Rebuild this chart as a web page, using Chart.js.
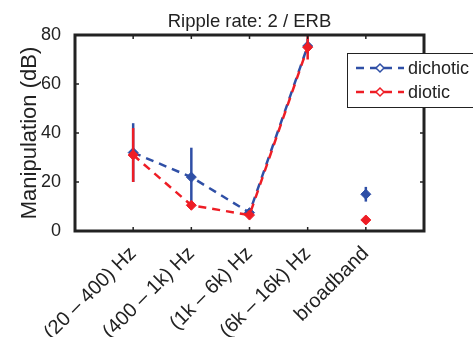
<!DOCTYPE html>
<html>
<head>
<meta charset="utf-8">
<script src="https://cdn.jsdelivr.net/npm/chart.js@4/dist/chart.umd.min.js"></script>
<style>
  html, body { margin: 0; padding: 0; background: #fff; }
  #wrap { width: 473px; height: 337px; }
</style>
</head>
<body>
<div id="wrap"><canvas id="chart" width="473" height="337"></canvas></div>
<script>
const categories = ['(20 \u2013 400) Hz', '(400 \u2013 1k) Hz', '(1k \u2013 6k) Hz', '(6k \u2013 16k) Hz', 'broadband'];
const dichotic = [32, 22, 7.5, 75.5, 15];
const dichoticErr = [12, 12, 1.5, 3, 3];
const diotic = [31, 10.5, 6.5, 75, 4.5];
const dioticErr = [11, 1.5, 1.5, 5, 1];
const yTicks = [0, 20, 40, 60, 80];

const BLUE = '#2f4fa6';
const RED = '#ee1d25';
const FONT = '"Liberation Sans", Arial, sans-serif';

function pts(arr) { return arr.map((v, i) => ({ x: i + 1, y: v })); }

// no line into the broadband point
const noLast = { borderColor: c => c.p1DataIndex === categories.length - 1 ? 'rgba(0,0,0,0)' : undefined };

const frame = {
  id: 'frame',
  beforeDatasetDraw(chart, args) {
    const ds = chart.data.datasets[args.index];
    if (!ds.err) return;
    const { ctx, chartArea: a } = chart;
    const x = chart.scales.x, y = chart.scales.y;
    ctx.save();
    ctx.beginPath();
    ctx.rect(a.left, a.top, a.right - a.left, a.bottom - a.top);
    ctx.clip();
    ctx.strokeStyle = ds.borderColor;
    ctx.lineWidth = 2.5;
    ds.data.forEach((p, i) => {
      ctx.beginPath();
      ctx.moveTo(x.getPixelForValue(p.x), y.getPixelForValue(p.y - ds.err[i]));
      ctx.lineTo(x.getPixelForValue(p.x), y.getPixelForValue(p.y + ds.err[i]));
      ctx.stroke();
    });
    ctx.restore();
  },
  afterDraw(chart) {
    const { ctx, chartArea: a } = chart;
    const x = chart.scales.x, y = chart.scales.y;
    ctx.save();
    ctx.strokeStyle = '#222';
    ctx.lineWidth = 3;
    ctx.strokeRect(a.left, a.top, a.right - a.left, a.bottom - a.top);
    ctx.lineWidth = 1.5;
    categories.forEach((c, i) => {
      const px = x.getPixelForValue(i + 1);
      ctx.beginPath();
      ctx.moveTo(px, a.bottom); ctx.lineTo(px, a.bottom - 4);
      ctx.moveTo(px, a.top); ctx.lineTo(px, a.top + 4);
      ctx.stroke();
    });
    yTicks.forEach(v => {
      const py = y.getPixelForValue(v);
      ctx.beginPath();
      ctx.moveTo(a.left, py); ctx.lineTo(a.left + 4, py);
      ctx.moveTo(a.right, py); ctx.lineTo(a.right - 4, py);
      ctx.stroke();
    });
    // title
    ctx.fillStyle = '#222';
    ctx.font = '18.5px ' + FONT;
    ctx.textAlign = 'center';
    ctx.textBaseline = 'alphabetic';
    ctx.fillText('Ripple rate: 2 / ERB', (a.left + a.right) / 2, 26.5);
    // legend
    const lx = 347, ly = 53, lw = 130, lh = 54;
    ctx.fillStyle = '#fff';
    ctx.fillRect(lx, ly, lw, lh);
    ctx.strokeStyle = '#222';
    ctx.lineWidth = 1;
    ctx.strokeRect(lx + 0.5, ly + 0.5, lw, lh);
    [['dichotic', BLUE, 68], ['diotic', RED, 92]].forEach(([name, col, ry]) => {
      ctx.strokeStyle = col;
      ctx.lineWidth = 2.5;
      ctx.setLineDash([8, 6]);
      ctx.beginPath();
      ctx.moveTo(356, ry); ctx.lineTo(404, ry);
      ctx.stroke();
      ctx.setLineDash([]);
      ctx.fillStyle = '#fff';
      ctx.beginPath();
      ctx.moveTo(380, ry - 4); ctx.lineTo(384, ry); ctx.lineTo(380, ry + 4); ctx.lineTo(376, ry);
      ctx.closePath();
      ctx.fill();
      ctx.lineWidth = 1.5;
      ctx.stroke();
      ctx.fillStyle = '#222';
      ctx.font = '18px ' + FONT;
      ctx.textAlign = 'left';
      ctx.textBaseline = 'middle';
      ctx.fillText(name, 408, ry + 1);
    });
    ctx.restore();
  }
};

new Chart(document.getElementById('chart'), {
  type: 'line',
  data: {
    datasets: [
      {
        label: 'dichotic',
        data: pts(dichotic),
        err: dichoticErr,
        borderColor: BLUE,
        backgroundColor: BLUE,
        borderWidth: 2.5,
        borderDash: [8, 6],
        pointStyle: 'rectRot',
        pointRadius: 5,
        pointBorderWidth: 1,
        segment: noLast,
        order: 2
      },
      {
        label: 'diotic',
        data: pts(diotic),
        err: dioticErr,
        borderColor: RED,
        backgroundColor: RED,
        borderWidth: 2.5,
        borderDash: [8, 6],
        pointStyle: 'rectRot',
        pointRadius: 5,
        pointBorderWidth: 1,
        segment: noLast,
        order: 1
      }
    ]
  },
  options: {
    responsive: false,
    animation: false,
    layout: { padding: { top: 35, right: 49, left: 0, bottom: 0 } },
    plugins: { legend: { display: false }, tooltip: { enabled: false } },
    scales: {
      x: {
        type: 'linear',
        min: 0,
        max: 6,
        grid: { display: false },
        border: { display: false },
        afterBuildTicks: s => { s.ticks = categories.map((c, i) => ({ value: i + 1 })); },
        afterFit: s => { s.height = 106; },
        ticks: {
          autoSkip: false,
          minRotation: 45,
          maxRotation: 45,
          padding: 3,
          color: '#222',
          font: { family: FONT, size: 20 },
          callback: v => categories[v - 1]
        }
      },
      y: {
        min: 0,
        max: 80,
        grid: { display: false },
        border: { display: false },
        afterBuildTicks: s => { s.ticks = yTicks.map(v => ({ value: v })); },
        afterFit: s => { s.width = 75; },
        title: {
          display: true,
          text: 'Manipulation (dB)',
          color: '#222',
          font: { family: FONT, size: 22 },
          padding: { top: 17, bottom: 0 }
        },
        ticks: {
          padding: 6,
          color: '#222',
          font: { family: FONT, size: 18 }
        }
      }
    }
  },
  plugins: [frame]
});
</script>
</body>
</html>
